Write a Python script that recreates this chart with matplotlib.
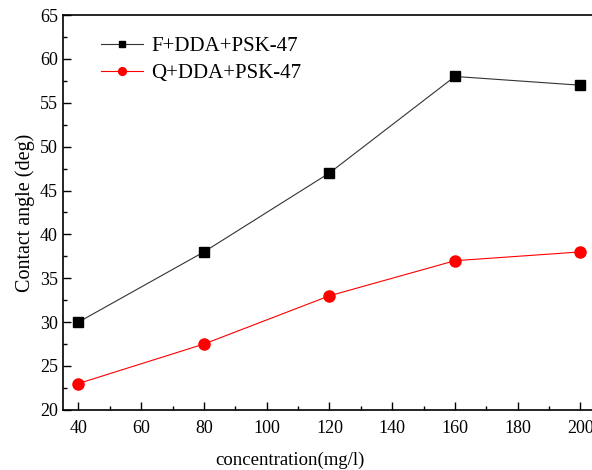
import matplotlib
matplotlib.use('Agg')
import matplotlib.pyplot as plt
from matplotlib.ticker import MultipleLocator

# data
conc = [40, 80, 120, 160, 200]
f_angle = [30, 38, 47, 58, 57]
q_angle = [23, 27.5, 33, 37, 38]

plt.rcParams['font.family'] = ['Liberation Serif', 'DejaVu Serif']

fig = plt.figure(figsize=(5.92, 4.70), dpi=100)
ax = fig.add_axes([0.106, 0.128, 1.007 - 0.106, 0.968 - 0.128])

ax.plot(conc, f_angle, color='#333333', lw=0.8, marker='s', ms=7,
        mfc='black', mec='black', label='F+DDA+PSK-47')
ax.plot(conc, q_angle, color='red', lw=0.8, marker='o', ms=8,
        mfc='red', mec='red', label='Q+DDA+PSK-47')

ax.set_xlim(35, 205)
ax.set_ylim(20, 65)
ax.xaxis.set_major_locator(MultipleLocator(20))
ax.xaxis.set_minor_locator(MultipleLocator(10))
ax.yaxis.set_major_locator(MultipleLocator(5))
ax.yaxis.set_minor_locator(MultipleLocator(2.5))
ax.tick_params(which='both', direction='in', labelsize=13)
ax.tick_params(axis='x', pad=7)
ax.tick_params(which='major', length=6, width=1)
ax.tick_params(which='minor', length=3, width=1)
ax.spines['right'].set_visible(False)
for s in ['left', 'bottom', 'top']:
    ax.spines[s].set_linewidth(1.2)

ax.set_xlabel('concentration(mg/l)', fontsize=13.5)
ax.xaxis.set_label_coords(0.425, -0.105)
ax.set_ylabel('Contact angle (deg)', fontsize=14.5)
ax.yaxis.set_label_coords(-0.052, 0.5)

ax.legend(loc='upper left', bbox_to_anchor=(0.045, 0.982), frameon=False,
          fontsize=15, handlelength=2.0, handletextpad=0.4, labelspacing=0.35,
          borderpad=0.2, markerscale=0.7)

plt.savefig('out.png', dpi=100)
